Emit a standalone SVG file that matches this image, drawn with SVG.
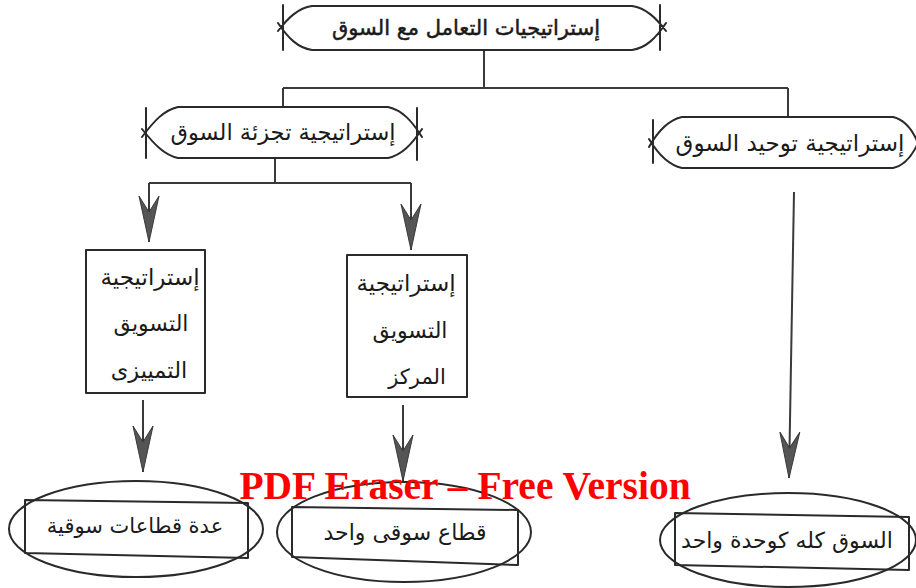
<svg xmlns="http://www.w3.org/2000/svg" width="916" height="588" viewBox="0 0 916 588">
<style>
.ln{fill:none;stroke:#2a2a2a;stroke-width:2;stroke-linecap:round;stroke-linejoin:round}
.ar{fill:none;stroke:#3a3a3a;stroke-width:2}
.t{font-family:"DejaVu Sans",sans-serif;fill:#1a1a1a;text-anchor:middle;dominant-baseline:central}
.wm{font-family:"Liberation Serif",serif;font-weight:bold;fill:#ff0000;font-size:39.5px;text-anchor:middle}
</style>
<defs>
<marker id="ah" viewBox="0 0 46 22" refX="46" refY="11" markerWidth="46" markerHeight="22" markerUnits="userSpaceOnUse" orient="auto">
<path d="M46,11 L0,1 L16,11 L0,21 Z" fill="#555" stroke="#3a3a3a" stroke-width="1"/>
</marker>
</defs>
<rect width="916" height="588" fill="#ffffff"/>

<g id="connectors">
<path class="ar" d="M484,51 V88 M283,88 H788 M283,88 V107 M788,88 V117"/>
<path class="ar" d="M275,158 V183 M149,183 H411"/>
<path class="ar" d="M149,183 V242" marker-end="url(#ah)"/>
<path class="ar" d="M411,183 V250" marker-end="url(#ah)"/>
<path class="ar" d="M143,400 V472" marker-end="url(#ah)"/>
<path class="ar" d="M403,405 V481" marker-end="url(#ah)"/>
<path class="ar" d="M794,192 L789,478" marker-end="url(#ah)"/>
</g>

<g id="node-market-strategies">
<path class="ln" d="M283,5 V50 M660,5 V50 M312,6 H632 M312,50 H632 M312,6 C298,8 288,18 278,31 M312,50 C298,48 288,38 278,23 M632,6 C646,8 656,18 666,31 M632,50 C646,48 656,38 666,23"/>
<text class="t" x="466" y="28" font-size="21" stroke="#1a1a1a" stroke-width="0.5">إستراتيجيات التعامل مع السوق</text>
</g>

<g id="node-segmentation">
<path class="ln" d="M146,108 V158 M417,108 V160 M178,107 H388 M178,158 H388 M178,107 C164,110 154,121 142,137 M178,158 C164,155 154,144 142,129 M388,107 C402,110 412,121 422,137 M388,158 C402,155 412,144 422,129"/>
<text class="t" x="283" y="132" font-size="22.5">إستراتيجية تجزئة السوق</text>
</g>

<g id="node-unification">
<path class="ln" d="M653,120 V163 M682,117 H893 M682,168 H893 M682,117 C668,120 658,131 649,147 M682,168 C668,165 658,154 649,139 M893,117 C906,120 913,131 918,143 M893,168 C906,165 913,154 918,143"/>
<text class="t" x="790" y="143" font-size="23">إستراتيجية توحيد السوق</text>
</g>

<g id="node-differentiated">
<rect class="ln" x="86" y="250" width="119" height="143"/>
<text class="t" x="150" y="277" font-size="23">إستراتيجية</text>
<text class="t" x="151" y="323" font-size="22">التسويق</text>
<text class="t" x="149" y="370" font-size="22.5">التمييزى</text>
</g>

<g id="node-concentrated">
<rect class="ln" x="347" y="255" width="120" height="142"/>
<text class="t" x="406" y="283" font-size="23">إستراتيجية</text>
<text class="t" x="410" y="330" font-size="22">التسويق</text>
<text class="t" x="417" y="377" font-size="21">المركز</text>
</g>

<g id="node-multiple-segments">
<ellipse class="ln" cx="136" cy="529" rx="127" ry="48"/>
<polygon class="ln" points="25,500 248,503 248,558 25,553"/>
<text class="t" x="135" y="526" font-size="21">عدة قطاعات سوقية</text>
</g>

<g id="node-single-segment">
<ellipse class="ln" cx="404" cy="532" rx="127" ry="50"/>
<polygon class="ln" points="292,507 518,510 518,565 292,557"/>
<text class="t" x="405" y="532" font-size="22">قطاع سوقى واحد</text>
</g>

<g id="node-whole-market">
<ellipse class="ln" cx="788" cy="540" rx="128" ry="47"/>
<polygon class="ln" points="675,513 909,517 909,570 675,565"/>
<text class="t" x="787" y="540" font-size="22">السوق كله كوحدة واحد</text>
</g>

<text class="wm" x="465" y="499">PDF Eraser – Free Version</text>
</svg>
